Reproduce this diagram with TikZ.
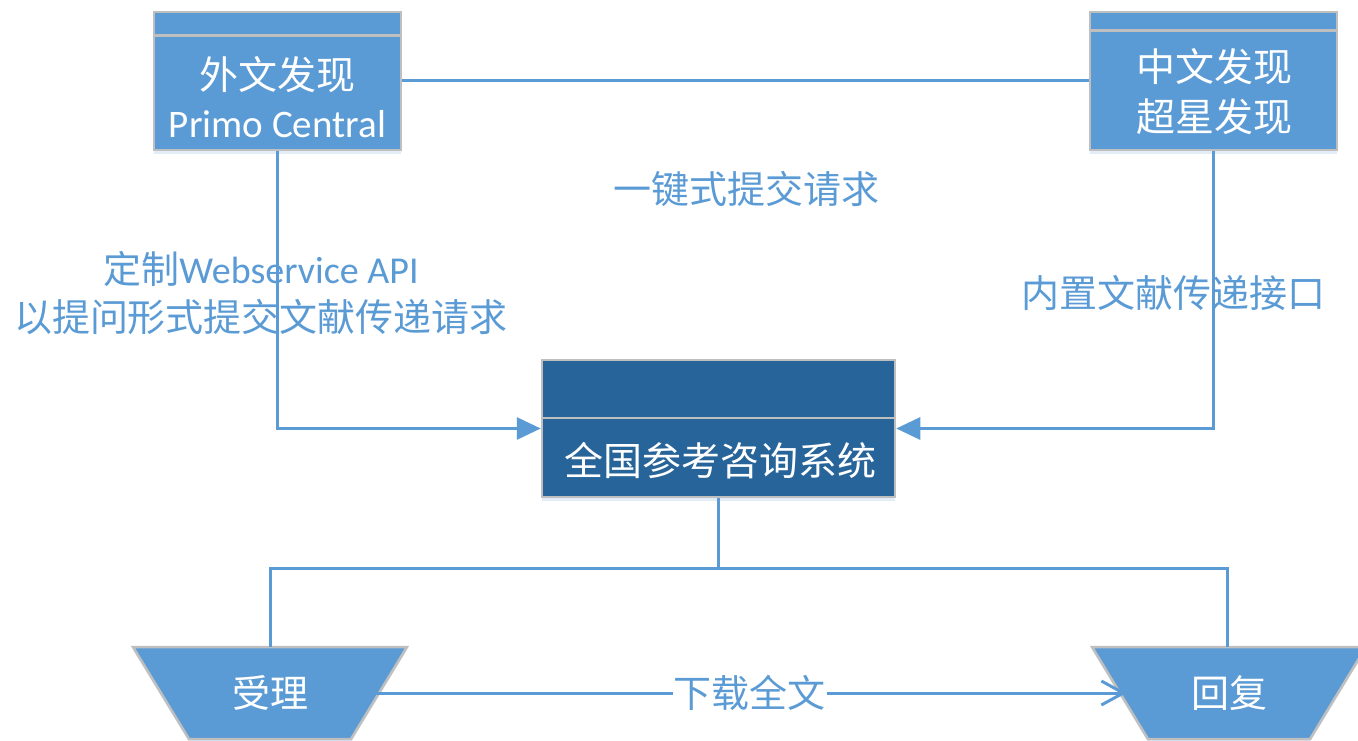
\documentclass[tikz,border=0pt]{standalone}
\usepackage{fontspec}
\setmainfont{Carlito}
\newfontfamily\cjk{Noto Sans CJK SC}
\usetikzlibrary{arrows.meta,shapes.geometric,shadows}
\definecolor{acc}{HTML}{5B9BD5}
\definecolor{darkacc}{HTML}{27649A}
\definecolor{bord}{HTML}{BFBFBF}
\definecolor{shd}{HTML}{E3EDF8}
\begin{document}
\begin{tikzpicture}[x=1pt,y=-1pt,
  box/.style={draw=bord, line width=2.5pt, fill=acc, minimum width=247pt,
    minimum height=138pt, inner sep=0pt,
    drop shadow={shadow xshift=0pt, shadow yshift=-4pt, fill=shd, opacity=1}},
  divider/.style={draw=bord, line width=2.5pt},
  boxtext/.style={text=white, align=center, inner sep=0pt,
    font=\fontsize{39}{48}\selectfont},
  lab/.style={text=acc, align=center, inner sep=2pt,
    font=\fontsize{38}{48}\selectfont},
  conn/.style={draw=acc, line width=3pt},
  trap/.style={trapezium, trapezium stretches=true, shape border rotate=180,
    trapezium left angle=53.13, trapezium right angle=53.13,
    minimum width=274pt, minimum height=92pt, inner sep=0pt,
    draw=bord, line width=2.5pt, fill=acc, text=white,
    font=\fontsize{38}{48}\selectfont,
    drop shadow={shadow xshift=0pt, shadow yshift=-3pt, fill=shd, opacity=1}},
  solidtip/.style={-{Triangle[length=24pt,width=22pt]}},
  opentip/.style={-{Straight Barb[length=22pt,width=24pt]}}
]
\clip (0,0) rectangle (1358,741);
\fill[white] (0,0) rectangle (1358,741);

% boxes
\node[box] (lbox) at (277.5,81) {};
\draw[divider] ([yshift=-25pt]lbox.north west) -- ([yshift=-25pt]lbox.north east);
\node[boxtext] (ltxt) at (277.5,97) {{\cjk 外文发现}\\Primo Central};

\node[box] (rbox) at (1213.5,81) {};
\draw[divider] ([yshift=-20pt]rbox.north west) -- ([yshift=-20pt]rbox.north east);
\node[boxtext, font=\fontsize{39}{50}\selectfont] (rtxt) at (1214,92) {{\cjk 中文发现}\\{\cjk 超星发现}};

\node[box, fill=darkacc, minimum width=353pt, minimum height=137pt] (cbox) at (718.5,428.5) {};
\draw[divider] ([yshift=-59pt]cbox.north west) -- ([yshift=-59pt]cbox.north east);
\node[boxtext] (ctxt) at (720,461) {\cjk 全国参考咨询系统};

% trapezoids
\node[trap] (ltrap) at (270,693) {\cjk 受理};
\node[trap] (rtrap) at (1229,693) {\cjk 回复};

% named connector points
\coordinate (ltop) at ([yshift=46pt]ltrap.center);
\coordinate (rtop) at ([yshift=46pt,xshift=-2pt]rtrap.center);
\coordinate (lside) at ([xshift=102.5pt]ltrap.center);
\coordinate (rside) at ([xshift=-102.5pt]rtrap.center);
\coordinate (junc) at (cbox.south |- 0,568);

% connectors
\draw[conn] (lbox.east) -- (rbox.west);
\draw[conn, solidtip] (lbox.south) |- (cbox.west);
\draw[conn, solidtip] (rbox.south) |- (cbox.east);
\draw[conn] (cbox.south) -- (junc);
\draw[conn] (ltop) -- (ltop |- junc) -- (rtop |- junc) -- (rtop);
\draw[conn, opentip] (lside) -- node[lab, fill=white, inner sep=1pt] (dl) {\cjk 下载全文} (rside);

% labels
\node[lab] (top) at (746,189) {\cjk 一键式提交请求};
\node[lab] (leftlab) at (261,293) {{\cjk 定制}Webservice API\\{\cjk 以提问形式提交文献传递请求}};
\node[lab] (rightlab) at (1173,293) {\cjk 内置文献传递接口};
\end{tikzpicture}
\end{document}
